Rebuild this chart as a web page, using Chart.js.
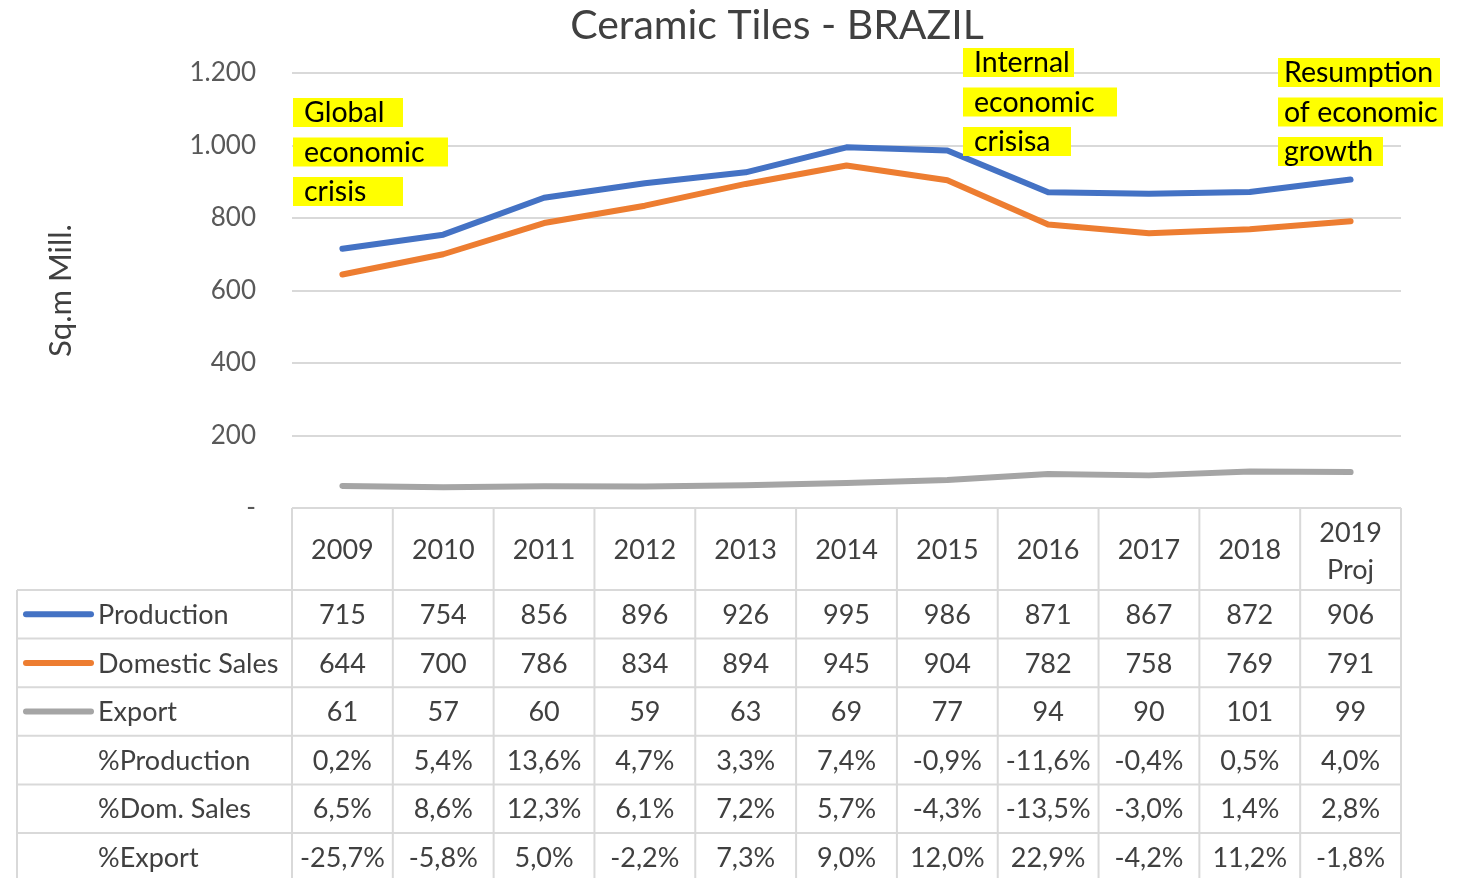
<!DOCTYPE html>
<html>
<head>
<meta charset="utf-8">
<title>Ceramic Tiles - BRAZIL</title>
<script src="https://cdn.jsdelivr.net/npm/chart.js@4.4.1/dist/chart.umd.min.js"></script>
<style>
  html, body { margin: 0; padding: 0; background: #fff; }
</style>
</head>
<body>
<canvas id="tilesChart" width="1461" height="878"></canvas>
<script>
// ---- data ----
const years = ['2009', '2010', '2011', '2012', '2013', '2014', '2015', '2016', '2017', '2018', ['2019', 'Proj']];
const production = [715, 754, 856, 896, 926, 995, 986, 871, 867, 872, 906];
const domesticSales = [644, 700, 786, 834, 894, 945, 904, 782, 758, 769, 791];
const exportVals = [61, 57, 60, 59, 63, 69, 77, 94, 90, 101, 99];
const pctProduction = ['0,2%', '5,4%', '13,6%', '4,7%', '3,3%', '7,4%', '-0,9%', '-11,6%', '-0,4%', '0,5%', '4,0%'];
const pctDomSales = ['6,5%', '8,6%', '12,3%', '6,1%', '7,2%', '5,7%', '-4,3%', '-13,5%', '-3,0%', '1,4%', '2,8%'];
const pctExport = ['-25,7%', '-5,8%', '5,0%', '-2,2%', '7,3%', '9,0%', '12,0%', '22,9%', '-4,2%', '11,2%', '-1,8%'];
const pctLabels = ['%Production', '%Dom. Sales', '%Export'];
const yTicks = [0, 200, 400, 600, 800, 1000, 1200];
const notes = [
  ['Global', 'economic', 'crisis'],
  ['Internal', 'economic', 'crisisa'],
  ['Resumption', 'of economic', 'growth']
];

const FONT = 'Lato, "Open Sans", sans-serif';
const GRID = '#d9d9d9';
const TEXT = '#404040';

// --- title drawn centred where the original sits ---
const titlePlugin = {
  id: 'bigTitle',
  afterDraw(chart) {
    const ctx = chart.ctx;
    ctx.save();
    ctx.font = '41px ' + FONT;
    ctx.fillStyle = TEXT;
    ctx.textAlign = 'center';
    ctx.textBaseline = 'middle';
    ctx.fillText('Ceramic Tiles - BRAZIL', 777, 26);
    ctx.restore();
  }
};

// --- yellow note boxes ---
const notesPlugin = {
  id: 'notes',
  afterDraw(chart) {
    const ctx = chart.ctx;
    const spots = [
      { x: 293, y: 98, w: [110, 155, 110] },
      { x: 963, y: 48, w: [111, 154, 108] },
      { x: 1278, y: 58, w: [162, 165, 105] }
    ];
    ctx.save();
    ctx.font = '28.5px ' + FONT;
    ctx.textBaseline = 'middle';
    notes.forEach((lines, i) => {
      const s = spots[i];
      lines.forEach((txt, j) => {
        const top = s.y + j * 39.5;
        ctx.fillStyle = '#ffff00';
        ctx.fillRect(s.x, top, s.w[j], 29);
        ctx.fillStyle = '#000';
        ctx.fillText(txt, s.x + (i === 2 ? 6 : 11), top + 15);
      });
    });
    ctx.restore();
  }
};

// --- data table under the plot ---
const tablePlugin = {
  id: 'dataTable',
  afterDraw(chart) {
    const ctx = chart.ctx;
    const a = chart.chartArea;
    const xs = chart.scales.x;
    const n = years.length;
    const colW = (a.right - a.left) / n;
    const labelLeft = 17;
    const headTop = a.bottom;
    const headH = 82;
    const rowH = 48.6;
    const bottom = chart.height + 10;

    const rows = chart.data.datasets.map(ds => ({
      label: ds.label, color: ds.borderColor, vals: ds.data.map(v => String(v))
    }));
    [pctProduction, pctDomSales, pctExport].forEach((vals, i) => {
      rows.push({ label: pctLabels[i], color: null, vals: vals });
    });

    ctx.save();
    ctx.strokeStyle = GRID;
    ctx.lineWidth = 2;
    ctx.beginPath();
    ctx.moveTo(a.left, headTop);
    ctx.lineTo(a.right, headTop);
    for (let i = 0; i <= n; i++) {
      const bx = a.left + i * colW;
      ctx.moveTo(bx, headTop);
      ctx.lineTo(bx, bottom);
    }
    ctx.moveTo(labelLeft, headTop + headH);
    ctx.lineTo(labelLeft, bottom);
    for (let r = 0; r <= rows.length; r++) {
      const y = headTop + headH + r * rowH;
      ctx.moveTo(labelLeft, y);
      ctx.lineTo(a.right, y);
    }
    ctx.stroke();

    ctx.font = '27px ' + FONT;
    ctx.fillStyle = TEXT;
    ctx.textBaseline = 'middle';
    ctx.textAlign = 'center';

    // header
    years.forEach((yr, i) => {
      const cx = xs.getPixelForValue(i);
      if (Array.isArray(yr)) {
        ctx.fillText(yr[0], cx, headTop + 25);
        ctx.fillText(yr[1], cx, headTop + 62);
      } else {
        ctx.fillText(yr, cx, headTop + headH / 2 + 1);
      }
    });

    rows.forEach((row, r) => {
      const cy = headTop + headH + r * rowH + rowH / 2 + 1;
      row.vals.forEach((v, i) => {
        ctx.textAlign = 'center';
        ctx.fillText(v, xs.getPixelForValue(i), cy);
      });
      if (row.color) {
        ctx.save();
        ctx.strokeStyle = row.color;
        ctx.lineWidth = 6;
        ctx.lineCap = 'round';
        ctx.beginPath();
        ctx.moveTo(26, cy - 1);
        ctx.lineTo(91, cy - 1);
        ctx.stroke();
        ctx.restore();
      }
      ctx.textAlign = 'left';
      ctx.fillText(row.label, 98, cy);
    });
    ctx.restore();
  }
};

const ctx = document.getElementById('tilesChart').getContext('2d');
new Chart(ctx, {
  type: 'line',
  data: {
    labels: years,
    datasets: [
      { label: 'Production', data: production, borderColor: '#4472c4' },
      { label: 'Domestic Sales', data: domesticSales, borderColor: '#ed7d31' },
      { label: 'Export', data: exportVals, borderColor: '#a5a5a5' }
    ]
  },
  options: {
    responsive: false,
    animation: false,
    devicePixelRatio: 1,
    layout: { padding: { top: 73, right: 60, bottom: 370, left: 0 } },
    elements: {
      line: { borderWidth: 6, tension: 0, borderCapStyle: 'round', borderJoinStyle: 'round', fill: false },
      point: { radius: 0, hoverRadius: 0 }
    },
    plugins: {
      legend: { display: false },
      title: { display: false },
      tooltip: { enabled: false }
    },
    scales: {
      x: {
        display: false,
        offset: true
      },
      y: {
        min: 0,
        max: 1200,
        afterFit(scale) { scale.width = 292; },
        afterBuildTicks(scale) { scale.ticks = yTicks.map(v => ({ value: v })); },
        border: { display: false },
        grid: { color: GRID, lineWidth: 2, drawTicks: false },
        ticks: {
          padding: 36,
          color: '#595959',
          font: { family: FONT, size: 26 },
          callback: v => v === 0 ? '-' : v.toLocaleString('de-DE')
        },
        title: {
          display: true,
          text: 'Sq.m Mill.',
          color: '#404040',
          font: { family: FONT, size: 31 },
          padding: { top: 42, bottom: 0 }
        }
      }
    }
  },
  plugins: [titlePlugin, notesPlugin, tablePlugin]
});
</script>
</body>
</html>
